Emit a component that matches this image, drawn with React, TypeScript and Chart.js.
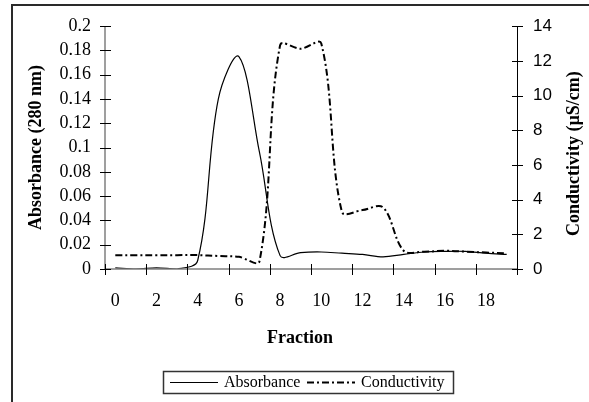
import { useEffect, useRef } from 'react';
import { Chart, registerables } from 'chart.js';

Chart.register(...registerables);

const fractions = ['0', '1', '2', '3', '4', '5', '6', '7', '8', '9', '10', '11', '12', '13', '14', '15', '16', '17', '18', '19'];
const absorbance = [0.001, 0, 0.001, 0, 0.007, 0.14, 0.175, 0.096, 0.011, 0.0135, 0.014, 0.013, 0.012, 0.01, 0.012, 0.014, 0.0145, 0.0145, 0.013, 0.012];
const conductivity = [0.8, 0.8, 0.8, 0.8, 0.8, 0.75, 0.7, 0.45, 12.9, 12.7, 13.0, 3.3, 3.4, 3.55, 1.05, 1.0, 1.05, 1.0, 0.95, 0.9];
const absTitle = 'Absorbance (280 nm)';
const condTitle = 'Conductivity (µS/cm)';
const xTitle = 'Fraction';
const seriesNames = ['Absorbance', 'Conductivity'];

const SERIF = '"Liberation Serif", "Times New Roman", serif';
const SANS = '"Liberation Sans", Arial, sans-serif';
const DASH = [7, 3, 2, 3];

const decor = {
  id: 'decor',
  beforeDraw(chart: any) {
    const { ctx, width, height } = chart;
    ctx.save();
    ctx.fillStyle = '#fff';
    ctx.fillRect(0, 0, width, height);
    ctx.restore();
  },
  afterDraw(chart: any) {
    const { ctx, chartArea } = chart;
    const { left, right, top, bottom } = chartArea;
    const x = chart.scales.x;
    const y = chart.scales.y;
    const y1 = chart.scales.y1;
    ctx.save();
    // outer frame
    ctx.strokeStyle = '#2a2a2a';
    ctx.lineWidth = 2;
    ctx.beginPath();
    ctx.moveTo(12, 410);
    ctx.lineTo(12, 5);
    ctx.lineTo(600, 5);
    ctx.stroke();

    // axis lines
    ctx.lineWidth = 1.5;
    ctx.strokeStyle = '#808080';
    ctx.beginPath();
    ctx.moveTo(left, top);
    ctx.lineTo(left, bottom);
    ctx.moveTo(left, bottom);
    ctx.lineTo(right, bottom);
    ctx.stroke();
    ctx.strokeStyle = '#000';
    ctx.lineWidth = 1;
    ctx.beginPath();
    ctx.moveTo(right + 0.5, top);
    ctx.lineTo(right + 0.5, bottom);
    ctx.stroke();

    // cross tick marks
    ctx.strokeStyle = '#000';
    ctx.lineWidth = 1;
    ctx.beginPath();
    y.ticks.forEach((t: any) => {
      const py = Math.round(y.getPixelForValue(t.value)) + 0.5;
      ctx.moveTo(left - 5, py);
      ctx.lineTo(left + 6, py);
    });
    y1.ticks.forEach((t: any) => {
      const py = Math.round(y1.getPixelForValue(t.value)) + 0.5;
      ctx.moveTo(right - 5, py);
      ctx.lineTo(right + 6, py);
    });
    for (let i = 0; i <= fractions.length; i += 2) {
      const px = Math.round(x.getPixelForValue(i) - (x.getPixelForValue(1) - x.getPixelForValue(0)) / 2) + 0.5;
      ctx.moveTo(px, bottom - 5);
      ctx.lineTo(px, bottom + 6);
    }
    ctx.stroke();

    // axis titles
    ctx.fillStyle = '#000';
    ctx.font = `bold 18px ${SERIF}`;
    ctx.textAlign = 'center';
    ctx.textBaseline = 'middle';
    ctx.save();
    ctx.translate(36, (top + bottom) / 2);
    ctx.rotate(-Math.PI / 2);
    ctx.fillText(absTitle, 0, 0);
    ctx.restore();
    ctx.save();
    ctx.translate(574, (top + bottom) / 2 + 6);
    ctx.rotate(-Math.PI / 2);
    ctx.fillText(condTitle, 0, 0);
    ctx.restore();
    ctx.fillText(xTitle, 300, 338);

    // legend
    const lx = 163, ly = 371, lw = 290, lh = 22;
    ctx.strokeStyle = '#333';
    ctx.lineWidth = 1.5;
    ctx.strokeRect(lx + 0.5, ly + 0.5, lw, lh);
    const cy = ly + lh / 2 + 0.5;
    ctx.strokeStyle = '#000';
    ctx.lineWidth = 1;
    ctx.beginPath();
    ctx.moveTo(170, cy);
    ctx.lineTo(218, cy);
    ctx.stroke();
    ctx.lineWidth = 2;
    ctx.setLineDash(DASH);
    ctx.beginPath();
    ctx.moveTo(307, cy);
    ctx.lineTo(355, cy);
    ctx.stroke();
    ctx.setLineDash([]);
    ctx.font = `16px ${SERIF}`;
    ctx.textAlign = 'left';
    ctx.fillText(seriesNames[0], 224, cy);
    ctx.fillText(seriesNames[1], 361, cy);
    ctx.restore();
  },
};

export default function App() {
  const ref = useRef<HTMLCanvasElement | null>(null);
  useEffect(() => {
    if (!ref.current) return;
    const chart = new Chart(ref.current, {
      type: 'line',
      data: {
        labels: fractions,
        datasets: [
          {
            label: seriesNames[0],
            data: absorbance,
            yAxisID: 'y',
            borderColor: '#000',
            borderWidth: 1.2,
            pointRadius: 0,
            tension: 0.35,
            fill: false,
          },
          {
            label: seriesNames[1],
            data: conductivity,
            yAxisID: 'y1',
            borderColor: '#000',
            borderWidth: 2,
            borderDash: DASH,
            pointRadius: 0,
            tension: 0.35,
            fill: false,
          },
        ],
      },
      options: {
        animation: false,
        responsive: false,
        maintainAspectRatio: false,
        devicePixelRatio: 1,
        layout: { padding: { top: 25, left: 0, right: 0, bottom: 0 } },
        plugins: { legend: { display: false }, tooltip: { enabled: false } },
        scales: {
          x: {
            type: 'category',
            offset: true,
            grid: { display: false, drawTicks: false, tickLength: 0 },
            border: { display: false },
            afterFit: (s: any) => { s.height = 133; },
            ticks: {
              autoSkip: false,
              maxRotation: 0,
              padding: 21,
              color: '#000',
              font: { family: SERIF, size: 18 },
              callback: (_v: any, i: number) => (i % 2 === 0 ? fractions[i] : ''),
            },
          },
          y: {
            position: 'left',
            min: 0,
            max: 0.2,
            grid: { display: false, drawTicks: false, tickLength: 0 },
            border: { display: false },
            afterFit: (s: any) => { s.width = 105; },
            ticks: {
              autoSkip: false,
              stepSize: 0.02,
              padding: 14,
              color: '#000',
              font: { family: SERIF, size: 18 },
              callback: (v: any) => String(Number(Number(v).toFixed(2))),
            },
          },
          y1: {
            position: 'right',
            min: 0,
            max: 14,
            grid: { display: false, drawTicks: false, tickLength: 0 },
            border: { display: false },
            afterFit: (s: any) => { s.width = 72; },
            ticks: {
              autoSkip: false,
              stepSize: 2,
              padding: 16,
              color: '#000',
              font: { family: SANS, size: 17 },
            },
          },
        },
      },
      plugins: [decor],
    });
    return () => chart.destroy();
  }, []);
  return (
    <div style={{ position: 'fixed', left: 0, top: 0, width: 589, height: 402, overflow: 'hidden' }}>
      <canvas ref={ref} width={589} height={402} style={{ display: 'block', width: 589, height: 402 }} />
    </div>
  );
}
